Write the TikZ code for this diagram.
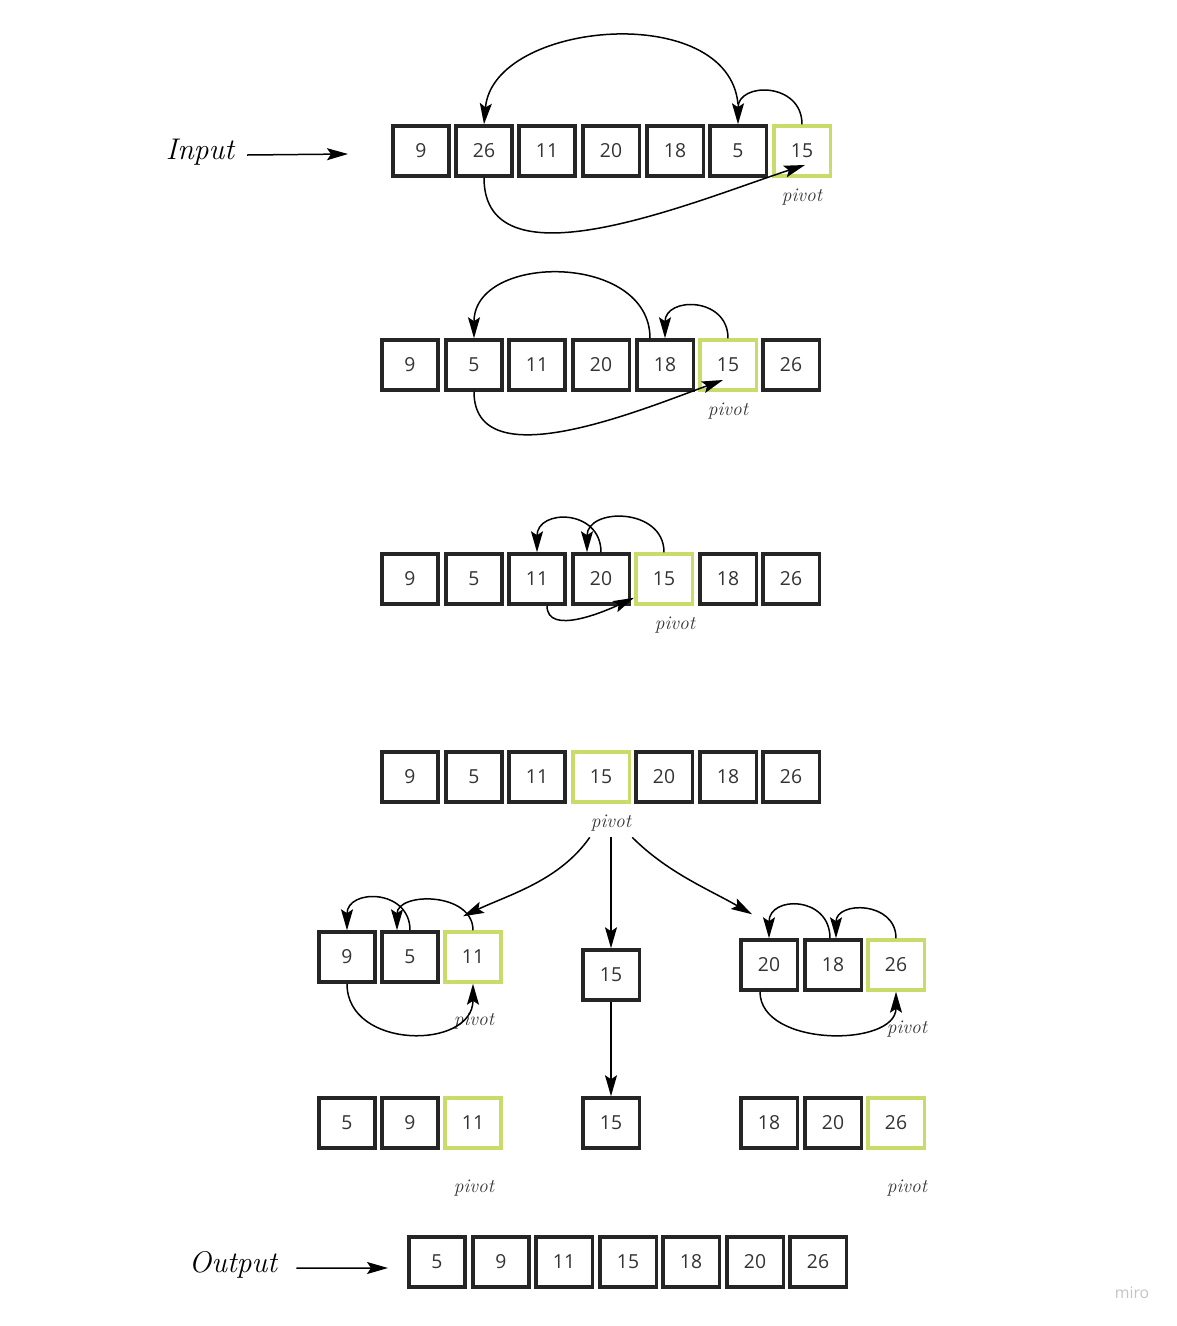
\documentclass[tikz,border=0pt]{standalone}
\usepackage{fontspec}
\newfontfamily\cellfont{Open Sans}
\usetikzlibrary{calc,positioning,arrows.meta}
\definecolor{cellline}{HTML}{252525}
\definecolor{cellnum}{HTML}{333333}
\definecolor{pivotgreen}{HTML}{c9dc6a}
\definecolor{mirogray}{HTML}{c4c4c4}
\tikzset{
  cell/.style={draw=cellline, line width=0.07cm, minimum width=1.13cm, minimum height=1.0cm,
    inner sep=0pt, text=cellnum, font=\cellfont\fontsize{11}{13}\selectfont},
  pivotcell/.style={cell, draw=pivotgreen},
  link/.style={-{Stealth[length=0.42cm,width=0.24cm,inset=0.08cm]}, line width=0.03cm},
  hand/.style={font=\itshape\fontsize{11}{13}\selectfont, text=cellnum},
  bighand/.style={font=\itshape\fontsize{17}{20}\selectfont}
}
\begin{document}
\begin{tikzpicture}[x=0.02cm,y=-0.02cm]
    \useasboundingbox (0,0) rectangle (1177,1326);

    % input row
    \node[bighand] (intxt) at (200,152) {Input};
    \node[cell] (a1) at (421,151) {9};
    \node[cell] (a2) at (484,151) {26};
    \node[cell] (a3) at (547,151) {11};
    \node[cell] (a4) at (611,151) {20};
    \node[cell] (a5) at (675,151) {18};
    \node[cell] (a6) at (738,151) {5};
    \node[pivotcell] (a7) at (802,151) {15};
    \node[hand] (pv1) at (802,197) {pivot};
    \draw[link] ([xshift=0.14cm,yshift=-0.06cm]intxt.east) -- ([xshift=-0.86cm,yshift=-0.06cm]a1.west);
    \draw[link] (a6.north) ++(0,-20) to[out=95,in=85,looseness=1.05] (a2.north);
    \draw[link] (a7.north) to[out=90,in=90,looseness=1.7] (a6.north);
    \draw[link] (a2.south) to[out=-90,in=198,looseness=0.9] ($(a7.center)+(3,14)$);

    % second step
    \node[cell] (b1) at (410,365) {9};
    \node[cell] (b2) at (474,365) {5};
    \node[cell] (b3) at (537,365) {11};
    \node[cell] (b4) at (601,365) {20};
    \node[cell] (b5) at (665,365) {18};
    \node[pivotcell] (b6) at (728,365) {15};
    \node[cell] (b7) at (791,365) {26};
    \node[hand] (pv2) at (728,411) {pivot};
    \draw[link] ([xshift=-0.3cm]b5.north) to[out=90,in=90,looseness=1.25] (b2.north);
    \draw[link] (b6.north) to[out=90,in=90,looseness=1.7] (b5.north);
    \draw[link] (b2.south) to[out=-90,in=200,looseness=0.9] ($(b6.center)+(-5,15)$);

    % third step
    \node[cell] (c1) at (410,579) {9};
    \node[cell] (c2) at (474,579) {5};
    \node[cell] (c3) at (537,579) {11};
    \node[cell] (c4) at (601,579) {20};
    \node[pivotcell] (c5) at (664,579) {15};
    \node[cell] (c6) at (728,579) {18};
    \node[cell] (c7) at (791,579) {26};
    \node[hand] (pv3) at (675,625) {pivot};
    \draw[link] (c4.north) to[out=90,in=90,looseness=1.75] (c3.north);
    \draw[link] (c5.north) to[out=90,in=90,looseness=1.5] ([xshift=-0.28cm]c4.north);
    \draw[link] ([xshift=0.2cm]c3.south) to[out=-90,in=205,looseness=0.9] ([yshift=0.16cm]c5.south west);

    % pivot in place
    \node[cell] (d1) at (410,777) {9};
    \node[cell] (d2) at (474,777) {5};
    \node[cell] (d3) at (537,777) {11};
    \node[pivotcell] (d4) at (601,777) {15};
    \node[cell] (d5) at (664,777) {20};
    \node[cell] (d6) at (728,777) {18};
    \node[cell] (d7) at (791,777) {26};
    \node[hand] (pv4) at (611,823) {pivot};

    % split
    \node[cell] (l1) at (347,957) {9};
    \node[cell] (l2) at (410,957) {5};
    \node[pivotcell] (l3) at (473,957) {11};
    \node[hand] (pv5) at (474,1021) {pivot};
    \node[cell] (m) at (611,975) {15};
    \node[cell] (r1) at (769,965) {20};
    \node[cell] (r2) at (833,965) {18};
    \node[pivotcell] (r3) at (896,965) {26};
    \node[hand] (pv6) at (907,1029) {pivot};
    \draw[link] ([xshift=0.1cm]pv4.south west) to[out=-125,in=25,looseness=0.9] ($(l3.north)+(-10,-14)$);
    \draw[link] (pv4.south) -- (m.north);
    \draw[link] ([xshift=-0.1cm]pv4.south east) to[out=-45,in=150,looseness=0.9] ($(r1.north west)+(13,-24)$);
    \draw[link] (l2.north) to[out=90,in=90,looseness=1.7] (l1.north);
    \draw[link] (l3.north) to[out=90,in=90,looseness=1.3] ([xshift=-0.26cm]l2.north);
    \draw[link] (l1.south) to[out=-90,in=-90,looseness=1.35] (l3.south);
    \draw[link] ([xshift=-0.06cm]r2.north) to[out=90,in=90,looseness=1.8] (r1.north);
    \draw[link] (r3.north) to[out=90,in=90,looseness=1.6] ([xshift=0.06cm]r2.north);
    \draw[link] ([xshift=-0.18cm]r1.south) to[out=-90,in=-90,looseness=1.05] (r3.south);

    % sorted parts
    \node[cell] (e1) at (347,1123) {5};
    \node[cell] (e2) at (410,1123) {9};
    \node[pivotcell] (e3) at (473,1123) {11};
    \node[hand] (pv7) at (474,1188) {pivot};
    \node[cell] (f) at (611,1123) {15};
    \node[cell] (g1) at (769,1123) {18};
    \node[cell] (g2) at (833,1123) {20};
    \node[pivotcell] (g3) at (896,1123) {26};
    \node[hand] (pv8) at (907,1188) {pivot};
    \draw[link] (m.south) -- (f.north);

    % output row
    \node[bighand] (outtxt) at (233,1265) {Output};
    \node[cell] (o1) at (437,1262) {5};
    \node[cell] (o2) at (501,1262) {9};
    \node[cell] (o3) at (564,1262) {11};
    \node[cell] (o4) at (628,1262) {15};
    \node[cell] (o5) at (691,1262) {18};
    \node[cell] (o6) at (755,1262) {20};
    \node[cell] (o7) at (818,1262) {26};
    \draw[link] ([xshift=0.26cm,yshift=-0.06cm]outtxt.east) -- ([xshift=-0.38cm,yshift=-0.12cm]o1.west);

    \node[text=mirogray, font=\cellfont\fontsize{9}{11}\selectfont] (miro) at (1132,1293) {miro};
\end{tikzpicture}
\end{document}
